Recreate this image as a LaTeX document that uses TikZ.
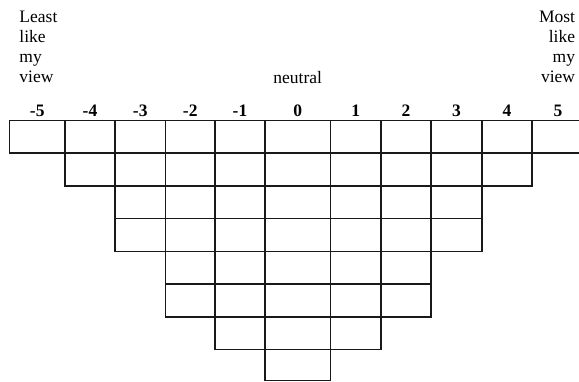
\documentclass[tikz,border=0pt]{standalone}
\usepackage{fontspec}
\setmainfont{Liberation Serif}
\begin{document}
\begin{tikzpicture}[x=1pt,y=-1pt,
  cellbox/.style={draw=black!90, line width=1.1pt},
  lab/.style={font=\fontsize{17.5}{20}\selectfont, inner sep=0pt},
  num/.style={font=\fontsize{17.5}{20}\selectfont\bfseries, inner sep=0pt, anchor=base}]
\useasboundingbox (0,0) rectangle (579,381);
\clip (0,0) rectangle (579,381);
\def\xs{{9.5,65,115,165.5,215,265,330.5,381,431,482,532,584}}
\def\ys{{120.7,153,186,218.5,251.5,284,317,349.5,380.5}}
% rows: row index / first column boundary / last column boundary
\foreach \r/\lo/\hi in {1/0/11,2/1/10,3/2/9,4/2/9,5/3/8,6/3/8,7/4/7,8/5/6}{
  \pgfmathtruncatemacro\rp{\r-1}
  \pgfmathsetmacro\ya{\ys[\rp]}
  \pgfmathsetmacro\yb{\ys[\r]}
  \pgfmathtruncatemacro\last{\hi-1}
  \foreach \c in {\lo,...,\last}{
    \pgfmathtruncatemacro\cn{\c+1}
    \pgfmathsetmacro\xa{\xs[\c]}
    \pgfmathsetmacro\xb{\xs[\cn]}
    \draw[cellbox] (\xa,\ya) rectangle (\xb,\yb);
  }
}
% column numbers
\foreach \v [count=\i from 0] in {-5,-4,-3,-2,-1,0,1,2,3,4,5}{
  \pgfmathtruncatemacro\inx{\i+1}
  \pgfmathsetmacro\xa{\xs[\i]}
  \pgfmathsetmacro\xb{\xs[\inx]}
  \pgfmathsetmacro\xm{(\xa+\xb)/2}
  \node[num] (n\i) at (\xm,116) {\v};
}
\node[lab, align=left, anchor=base west] (least) at (19.3,82.7) {Least\\like\\my\\view};
\node[lab, align=right, anchor=base east] (most) at (575.3,82.7) {Most\\like\\my\\view};
\node[lab, anchor=base] (neutral) at (297.7,83) {neutral};
\end{tikzpicture}
\end{document}
